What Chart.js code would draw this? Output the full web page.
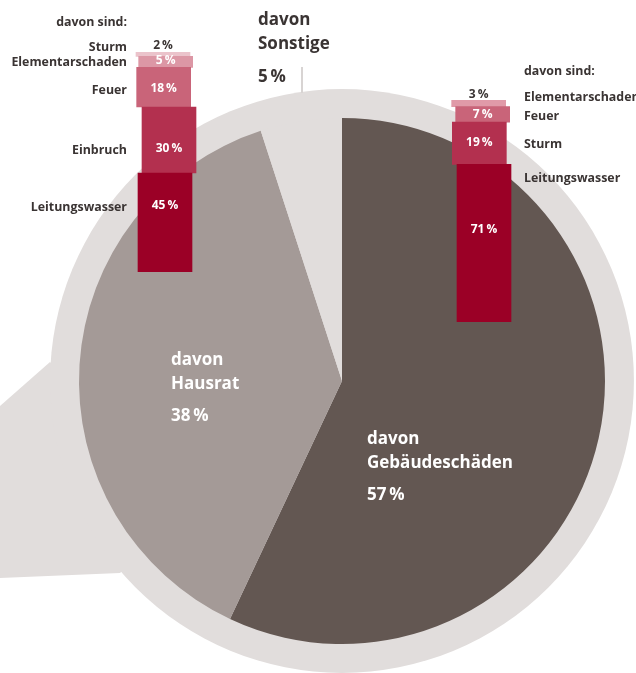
<!DOCTYPE html>
<html lang="de">
<head>
<meta charset="utf-8">
<title>Schadenarten</title>
<script src="https://cdn.jsdelivr.net/npm/chart.js@4.4.0/dist/chart.umd.min.js"></script>
<style>
  html, body { margin: 0; padding: 0; background: #fff; }
  #seite { position: relative; width: 636px; height: 673px; overflow: hidden; font-family: "Open Sans", sans-serif; }
  canvas { position: absolute; }
  .txt { position: absolute; white-space: nowrap; transform: translateY(-50%); font-weight: 700; }
  .klein { font-size: 12.4px; color: #3a3433; }
  .gross { font-size: 17px; }
</style>
</head>
<body>
<div id="seite">
  <canvas id="kuchen" width="636" height="673" style="left:0;top:0"></canvas>
  <canvas id="balkenHausrat" width="90" height="240" style="left:120px;top:40px"></canvas>
  <canvas id="balkenGebaeude" width="90" height="240" style="left:439px;top:88px"></canvas>
</div>
<script>
// Daten: Aufteilung der Schäden
const kuchenKategorien = ['Gebäudeschäden', 'Hausrat', 'Sonstige'];
const kuchenWerte = [57, 38, 5];

// davon sind (Hausrat), von unten nach oben
const hausratKategorien = ['Leitungswasser', 'Einbruch', 'Feuer', 'Elementarschaden', 'Sturm'];
const hausratWerte = [45, 30, 18, 5, 2];

// davon sind (Gebäude), von unten nach oben
const gebaeudeKategorien = ['Leitungswasser', 'Sturm', 'Feuer', 'Elementarschaden'];
const gebaeudeWerte = [71, 19, 7, 3];

// Farben
const ringFarbe = '#e1dddc';
const kuchenFarben = ['#635752', '#a49a97', ringFarbe];
const hausratFarben = ['#9b0026', '#b3304f', '#c96479', '#dc97a5', '#ebc3cb'];
const gebaeudeFarben = ['#9b0026', '#b3304f', '#c96479', '#e09aa8'];
const textDunkel = '#3a3433';

// Layout (Pixel): seitlicher Versatz der Balkenstücke und Zeilenhöhen der Beschriftung
const hausratVersatz = [0, 6, -2, 1, -3];
const hausratZeileY = [206, 149, 89, 61, 46];
const gebaeudeVersatz = [0, -7, -2, -8];
const gebaeudeZeileY = [177, 143, 115, 96];
const gebaeudeWertY = [230, 143, 115, 95];

const prozent = v => v + '\u2009%';
const seite = document.getElementById('seite');

function text(inhalt, x, y, klasse, farbe, rechts) {
    const d = document.createElement('div');
    d.className = 'txt ' + klasse;
    d.textContent = inhalt;
    d.style.top = y + 'px';
    if (rechts) d.style.right = (636 - x) + 'px'; else d.style.left = x + 'px';
    if (farbe) d.style.color = farbe;
    seite.appendChild(d);
}

// Hintergrundkreis mit Sprechblasen-Spitze links und Hilfslinie für "Sonstige"
const hintergrund = {
    id: 'hintergrund',
    beforeDatasetsDraw(chart) {
        const ctx = chart.ctx;
        const arc = chart.getDatasetMeta(0).data[0];
        const r = arc.outerRadius * 1.11;
        ctx.save();
        ctx.fillStyle = ringFarbe;
        ctx.beginPath();
        ctx.moveTo(50, 362);
        ctx.lineTo(0, 406);
        ctx.lineTo(0, 578);
        ctx.lineTo(120, 573);
        ctx.lineTo(200, 500);
        ctx.closePath();
        ctx.fill();
        ctx.beginPath();
        ctx.arc(arc.x, arc.y, r, 0, Math.PI * 2);
        ctx.fill();
        ctx.strokeStyle = '#d8d4d3';
        ctx.lineWidth = 2;
        ctx.beginPath();
        ctx.moveTo(302, 67);
        ctx.lineTo(302, arc.y - r + 4);
        ctx.stroke();
        ctx.restore();
    }
};

new Chart(document.getElementById('kuchen'), {
    type: 'pie',
    data: {
        labels: kuchenKategorien,
        datasets: [{
            data: kuchenWerte,
            backgroundColor: kuchenFarben,
            borderWidth: 0
        }]
    },
    options: {
        responsive: false,
        animation: false,
        layout: { padding: { left: 79, right: 31, top: 118, bottom: 29 } },
        plugins: { legend: { display: false }, tooltip: { enabled: false } }
    },
    plugins: [hintergrund]
});

// Prozentwerte in den Balken
function wertLabels(werte, wertY, obenY) {
    return {
        id: 'wertLabels',
        afterDatasetsDraw(chart) {
            const ctx = chart.ctx;
            ctx.save();
            ctx.font = '700 12px "Open Sans"';
            ctx.textAlign = 'center';
            ctx.textBaseline = 'middle';
            werte.forEach((v, i) => {
                const el = chart.getDatasetMeta(i).data[0];
                ctx.fillStyle = v < 4 ? textDunkel : '#ffffff';
                ctx.fillText(prozent(v), el.x, wertY[i] - obenY);
            });
            ctx.restore();
        }
    };
}

function balken(canvasId, kategorien, werte, farben, versatz, oben, wertY, obenY) {
    let summe = 0;
    const datasets = kategorien.map((k, i) => {
        const start = summe;
        summe += werte[i];
        return {
            label: k,
            data: [{ x: versatz[i], y: [start, summe] }],
            backgroundColor: farben[i],
            borderWidth: 0,
            barThickness: 54,
            grouped: false
        };
    });
    new Chart(document.getElementById(canvasId), {
        type: 'bar',
        data: { datasets: datasets },
        options: {
            responsive: false,
            animation: false,
            layout: { padding: { top: oben.top, bottom: oben.bottom, left: 0, right: 0 } },
            scales: {
                x: { type: 'linear', min: -45, max: 45, display: false },
                y: { min: 0, max: 100, display: false }
            },
            plugins: { legend: { display: false }, tooltip: { enabled: false } }
        },
        plugins: [wertLabels(werte, wertY, obenY)]
    });
}

balken('balkenHausrat', hausratKategorien, hausratWerte, hausratFarben, hausratVersatz,
    { top: 12, bottom: 8 }, hausratZeileY, 40);
balken('balkenGebaeude', gebaeudeKategorien, gebaeudeWerte, gebaeudeFarben, gebaeudeVersatz,
    { top: 12, bottom: 6 }, gebaeudeWertY, 88);

// Beschriftungen
text('davon sind:', 127, 21, 'klein', null, true);
hausratKategorien.forEach((k, i) => text(k, 127, hausratZeileY[i], 'klein', null, true));
text('davon sind:', 524, 70, 'klein');
gebaeudeKategorien.forEach((k, i) => text(k, 524, gebaeudeZeileY[i], 'klein'));

text('davon', 258, 18, 'gross', textDunkel);
text(kuchenKategorien[2], 258, 42, 'gross', textDunkel);
text(prozent(kuchenWerte[2]), 258, 75, 'gross', textDunkel);

text('davon', 171, 358, 'gross', '#ffffff');
text(kuchenKategorien[1], 171, 382, 'gross', '#ffffff');
text(prozent(kuchenWerte[1]), 171, 414, 'gross', '#ffffff');

text('davon', 367, 437, 'gross', '#ffffff');
text(kuchenKategorien[0], 367, 461, 'gross', '#ffffff');
text(prozent(kuchenWerte[0]), 367, 493, 'gross', '#ffffff');
</script>
</body>
</html>
